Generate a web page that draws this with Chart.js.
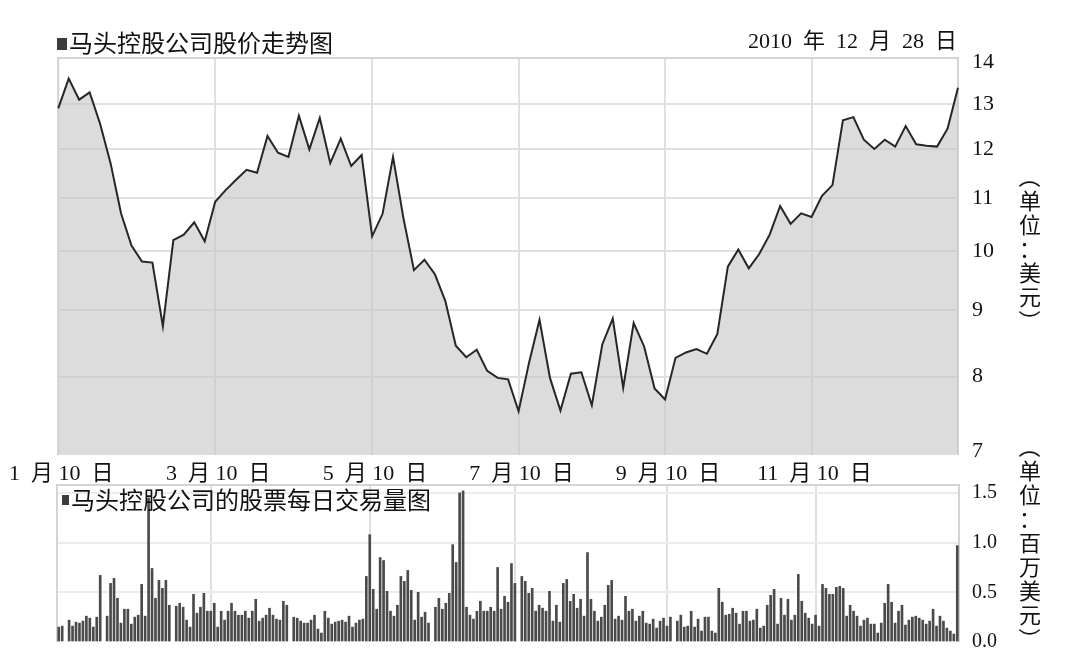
<!DOCTYPE html>
<html>
<head>
<meta charset="utf-8">
<script src="https://cdn.jsdelivr.net/npm/chart.js@4.4.0/dist/chart.umd.min.js"></script>
<style>
html, body { margin: 0; padding: 0; background: #fff; }
#wrap { position: relative; width: 1076px; height: 667px; }
canvas { position: absolute; left: 0; top: 0; }
</style>
</head>
<body>
<div id="wrap">
  <canvas id="priceChart" width="1076" height="667"></canvas>
  <canvas id="volumeChart" width="1076" height="667"></canvas>
</div>
<script>
// price panel (log scale, USD)
const priceTitle = '马头控股公司股价走势图';
const priceDate = '2010  年  12  月  28  日';
const priceUnit = ['（', '单', '位', '：', '美', '元', '）'];
const priceTicks = [7, 8, 9, 10, 11, 12, 13, 14];
const dateTickIdx = [0, 15, 30, 44, 58, 72];
const dateTickLabels = ['1  月 10  日', '3  月 10  日', '5  月 10  日', '7  月 10  日', '9  月 10  日', '11  月 10  日'];
const closePrice = [
  12.9, 13.6, 13.1, 13.27, 12.55, 11.7, 10.7, 10.1, 9.82, 9.8,
  8.75, 10.2, 10.3, 10.53, 10.18, 10.92, 11.15, 11.36, 11.56, 11.5,
  12.28, 11.92, 11.83, 12.73, 11.99, 12.68, 11.7, 12.22, 11.64, 11.87,
  10.27, 10.69, 11.83, 10.6, 9.67, 9.85, 9.6, 9.15, 8.45, 8.28,
  8.39, 8.08, 7.98, 7.96, 7.52, 8.2, 8.85, 7.98, 7.53, 8.04,
  8.06, 7.6, 8.47, 8.87, 7.84, 8.8, 8.44, 7.83, 7.68, 8.27,
  8.35, 8.4, 8.33, 8.63, 9.73, 10.03, 9.7, 9.95, 10.3, 10.84,
  10.5, 10.7, 10.63, 11.04, 11.25, 12.63, 12.7, 12.2, 12.0, 12.2,
  12.05, 12.5, 12.1, 12.07, 12.05, 12.44, 13.38
];

// volume panel (million USD), null = no trading day shown
const volumeTitle = '马头控股公司的股票每日交易量图';
const volumeUnit = ['（', '单', '位', '：', '百', '万', '美', '元', '）'];
const volumeTicks = [0, 0.5, 1.0, 1.5];
const volumeGridIdx = [44, 90, 132, 176, 219];
const dailyVolume = [
  0.15, 0.16, null, 0.22, 0.16, 0.20, 0.19, 0.21, 0.26, 0.24,
  0.15, 0.25, 0.67, null, 0.26, 0.59, 0.64, 0.44, 0.19, 0.33,
  0.33, 0.18, 0.25, 0.27, 0.58, 0.26, 1.45, 0.74, 0.44, 0.62,
  0.54, 0.62, 0.37, null, 0.36, 0.39, 0.35, 0.22, 0.15, 0.48,
  0.29, 0.35, 0.49, 0.31, 0.31, 0.39, 0.15, 0.31, 0.22, 0.31,
  0.39, 0.31, 0.27, 0.27, 0.31, 0.24, 0.31, 0.43, 0.21, 0.24,
  0.27, 0.34, 0.27, 0.23, 0.22, 0.41, 0.37, null, 0.25, 0.24,
  0.21, 0.19, 0.19, 0.22, 0.27, 0.13, 0.09, 0.31, 0.24, 0.18,
  0.20, 0.21, 0.22,
  0.20, 0.26, 0.15, 0.19, 0.22, 0.23, 0.66, 1.08, 0.53, 0.33,
  0.85, 0.82, 0.51, 0.31, 0.26, 0.37, 0.66, 0.61, 0.72, 0.52,
  0.22, 0.50, 0.25, 0.30, 0.19, null, 0.35, 0.44, 0.33, 0.39,
  0.49, 0.98, 0.80, 1.50, 1.52, 0.35, 0.27, 0.23, 0.31, 0.41,
  0.31, 0.31, 0.35, 0.31, 0.75, 0.33, 0.46, 0.40, 0.79, 0.59,
  null, 0.66, 0.61, 0.49, 0.54, 0.31, 0.37, 0.34, 0.31, 0.51,
  0.21, 0.37, 0.20, 0.59, 0.63, 0.41, 0.48, 0.34, 0.43, 0.26,
  0.90, 0.43, 0.31, 0.21, 0.25, 0.37, 0.57, 0.62, 0.23, 0.26,
  0.22, 0.46, 0.31, 0.33, 0.21, 0.26, 0.31, 0.19, 0.18, 0.23,
  0.14, 0.21, 0.24, 0.16, 0.25, null, 0.21, 0.27, 0.15, 0.16,
  0.31, 0.15,
  0.23, 0.11, 0.25, 0.25, 0.11, 0.09, 0.54, 0.40, 0.27, 0.28,
  0.34, 0.29, 0.18, 0.31, 0.31, 0.21, 0.22, 0.33, 0.14, 0.16,
  0.37, 0.47, 0.53, 0.18, 0.44, 0.27, 0.43, 0.22, 0.27, 0.68,
  0.41, 0.29, 0.24, 0.18, 0.27, 0.16, 0.58, 0.54, 0.48, 0.48,
  0.55, 0.56, 0.54, 0.26, 0.37, 0.31, 0.26, 0.16, 0.22, 0.24,
  0.18, 0.18, 0.09, 0.19, 0.39, 0.58, 0.40, 0.19, 0.31, 0.37,
  0.17, 0.22, 0.25, 0.26, 0.24, 0.22, 0.18, 0.21, 0.33, 0.16,
  0.26, 0.21, 0.14, 0.11, 0.08, 0.97
];

const serifFont = '"Liberation Serif", "Noto Sans CJK SC", serif';
const cjkFont = '"Noto Sans CJK SC", sans-serif';
const gridGray = '#e0e0e0';

// frame round the plot + titles and vertical unit text
const decor = {
  id: 'decor',
  beforeDatasetsDraw(chart) {
    const { ctx, chartArea: a } = chart;
    ctx.save();
    ctx.strokeStyle = '#d4d4d4';
    ctx.lineWidth = 2;
    ctx.beginPath();
    ctx.moveTo(a.left, a.bottom);
    ctx.lineTo(a.left, a.top);
    ctx.lineTo(a.right, a.top);
    ctx.lineTo(a.right, a.bottom);
    ctx.stroke();
    ctx.restore();
  },
  afterDraw(chart, args, o) {
    const ctx = chart.ctx;
    ctx.save();
    ctx.fillStyle = '#3c3c3c';
    ctx.fillRect(o.box[0], o.box[1], o.box[2], o.box[3]);
    ctx.fillStyle = '#111';
    ctx.textBaseline = 'middle';
    ctx.textAlign = 'left';
    ctx.font = '24px ' + cjkFont;
    ctx.fillText(o.title, o.titleX, o.titleY);
    if (o.date) {
      ctx.textAlign = 'right';
      ctx.font = '22px ' + serifFont;
      ctx.fillText(o.date, o.dateX, o.dateY);
    }
    ctx.textAlign = 'center';
    ctx.font = '22px ' + cjkFont;
    o.unit.forEach((ch, i) => {
      ctx.save();
      ctx.translate(o.unitX, o.unitY + i * 24);
      if (ch === '（' || ch === '）') ctx.rotate(Math.PI / 2);
      ctx.fillText(ch, 0, 0);
      ctx.restore();
    });
    ctx.restore();
  }
};

new Chart(document.getElementById('priceChart'), {
  type: 'line',
  data: {
    labels: closePrice.map((_, i) => i),
    datasets: [{
      data: closePrice,
      borderColor: '#262626',
      borderWidth: 2,
      backgroundColor: 'rgba(196,196,196,0.6)',
      fill: 'start',
      pointRadius: 0,
      tension: 0
    }]
  },
  options: {
    responsive: false,
    animation: false,
    layout: { padding: { left: 57, top: 58, right: 0, bottom: 167 } },
    plugins: {
      legend: { display: false },
      tooltip: { enabled: false },
      decor: {
        box: [57, 38, 10, 12],
        title: priceTitle, titleX: 69, titleY: 43,
        date: priceDate, dateX: 957, dateY: 42,
        unit: priceUnit, unitX: 1030, unitY: 177
      }
    },
    scales: {
      x: {
        type: 'category',
        offset: false,
        afterBuildTicks: s => { s.ticks = dateTickIdx.map(v => ({ value: v })); },
        afterFit: s => { s.height = 45; },
        grid: { color: gridGray, lineWidth: 2, drawTicks: false },
        border: { display: false },
        ticks: {
          autoSkip: false, maxRotation: 0, padding: 6, labelOffset: 3, color: '#111',
          font: { family: serifFont, size: 22 },
          callback: (v, i) => dateTickLabels[i]
        }
      },
      y: {
        type: 'logarithmic',
        position: 'right',
        min: 6.956,
        max: 14.11,
        afterBuildTicks: s => { s.ticks = priceTicks.map(v => ({ value: v })); },
        afterFit: s => { s.width = 118; },
        grid: {
          color: c => (c.tick && (c.tick.value === 7 || c.tick.value === 14)) ? 'rgba(0,0,0,0)' : gridGray,
          lineWidth: 2,
          drawTicks: false
        },
        border: { display: false },
        ticks: { padding: 14, color: '#111', font: { family: serifFont, size: 22 }, callback: v => v }
      }
    }
  },
  plugins: [decor]
});

new Chart(document.getElementById('volumeChart'), {
  type: 'bar',
  data: {
    labels: dailyVolume.map((_, i) => i),
    datasets: [{
      data: dailyVolume,
      backgroundColor: '#4a4a4a',
      barThickness: 2
    }]
  },
  options: {
    responsive: false,
    animation: false,
    layout: { padding: { left: 57, top: 485, right: 0, bottom: 0 } },
    plugins: {
      legend: { display: false },
      tooltip: { enabled: false },
      decor: {
        box: [62, 495, 7, 10],
        title: volumeTitle, titleX: 71, titleY: 500,
        unit: volumeUnit, unitX: 1030, unitY: 447
      }
    },
    scales: {
      x: {
        afterBuildTicks: s => { s.ticks = volumeGridIdx.map(v => ({ value: v })); },
        afterFit: s => { s.height = 21; },
        grid: { offset: false, color: gridGray, lineWidth: 2, drawTicks: false },
        border: { display: false },
        ticks: { display: false, autoSkip: false }
      },
      y: {
        position: 'right',
        min: 0,
        max: 1.58,
        afterBuildTicks: s => { s.ticks = volumeTicks.map(v => ({ value: v })); },
        afterFit: s => { s.width = 117; },
        grid: {
          color: c => (c.tick && c.tick.value === 0) ? 'rgba(0,0,0,0)' : '#ececec',
          lineWidth: 2,
          drawTicks: false
        },
        border: { display: false },
        ticks: { padding: 13, color: '#111', font: { family: serifFont, size: 20 }, callback: v => v.toFixed(1) }
      }
    }
  },
  plugins: [decor]
});
</script>
</body>
</html>
